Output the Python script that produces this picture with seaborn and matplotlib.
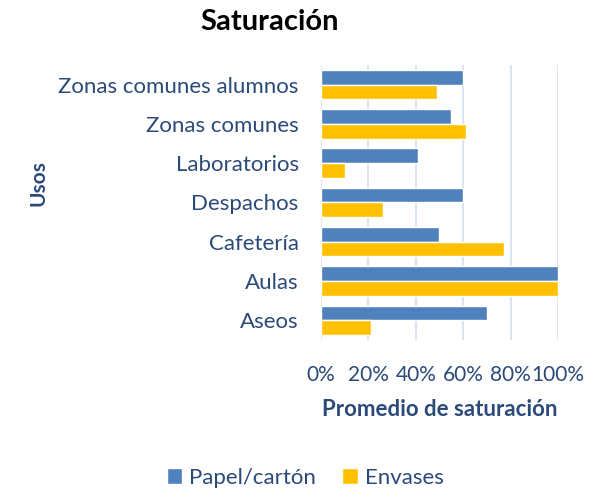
import matplotlib
matplotlib.use("Agg")
import matplotlib.pyplot as plt
import seaborn as sns
import pandas as pd
from matplotlib.patches import Patch

categories = ["Zonas comunes alumnos", "Zonas comunes", "Laboratorios",
              "Despachos", "Cafetería", "Aulas", "Aseos"]
papel = [60, 55, 41, 60, 50, 100, 70]
envases = [49, 61, 10, 26, 77, 100, 21]
series = ["Papel/cartón", "Envases"]
colors = ["#4F81BD", "#FFC000"]
xticks = [0, 20, 40, 60, 80, 100]

df = pd.DataFrame({
    "Usos": categories * 2,
    "valor": papel + envases,
    "serie": [series[0]] * len(categories) + [series[1]] * len(categories),
})

sns.set_theme(style="white")
plt.rcParams['font.family'] = ['Lato', 'DejaVu Sans']
txt = "#2B4A7A"

fig = plt.figure(figsize=(6.02, 4.92), dpi=100)
ax = fig.add_axes([0.533, 0.309, 0.394, 0.559])
sns.barplot(data=df, y="Usos", x="valor", hue="serie", order=categories,
            hue_order=series, palette=colors, orient="h", width=0.75,
            ax=ax, legend=False, saturation=1)
ax.set_xlim(0, 100)
ax.set_ylim(len(categories) - 0.5, -0.5)
ax.set_xticks(xticks)
ax.set_xticklabels([f"{v}%" for v in xticks])
ax.grid(axis="x", color="#DAE5F3", linewidth=1.5)
ax.set_axisbelow(True)
for s in ax.spines.values():
    s.set_visible(False)
ax.tick_params(axis="both", length=0, colors=txt)
ax.tick_params(axis="y", labelsize=16, pad=16)
ax.tick_params(axis="x", labelsize=15, pad=18)
ax.set_xlabel("Promedio de saturación", fontsize=16, fontweight="bold", color=txt, labelpad=10)
ax.set_ylabel("")
fig.text(38 / 602, 1 - 183 / 492, "Usos", rotation=90, ha="center", va="center",
         fontsize=15, fontweight="bold", color=txt)

fig.text(270 / 602, 1 - 22 / 492, "Saturación", ha="center", va="center",
         fontsize=21, fontweight="bold", color="black")

handles = [Patch(facecolor=c, label=l) for c, l in zip(colors, series)]
leg = fig.legend(handles=handles, loc="center", bbox_to_anchor=(305 / 602, 1 - 478 / 492),
                 ncol=2, frameon=False, fontsize=16, handlelength=0.7, handleheight=0.7,
                 columnspacing=1.2, handletextpad=0.3)
for t in leg.get_texts():
    t.set_color(txt)

fig.savefig("out.png", dpi=100)
